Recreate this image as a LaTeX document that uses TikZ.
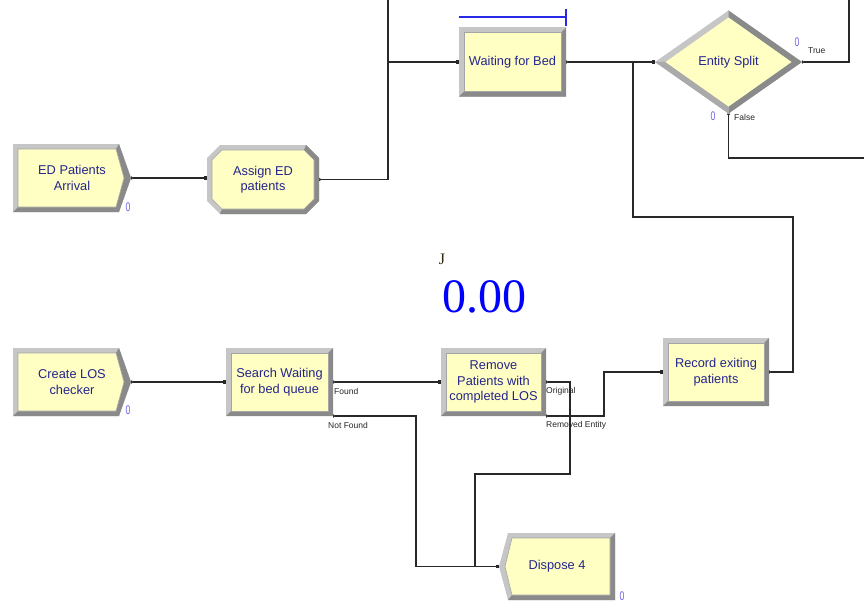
\documentclass[tikz,border=0pt]{standalone}
\usepackage{fontspec}
\setmainfont{Liberation Sans}
\newfontfamily\serifff{Liberation Serif}
\usetikzlibrary{arrows.meta,calc}
\pgfdeclarelayer{conn}
\pgfdeclarelayer{shp}
\pgfsetlayers{conn,shp,main}
\definecolor{yel}{RGB}{255,255,196}
\definecolor{bevL}{RGB}{198,198,198}
\definecolor{bevM}{RGB}{170,170,170}
\definecolor{bevD}{RGB}{138,138,138}
\definecolor{bevE}{RGB}{165,165,165}
\definecolor{txt}{RGB}{36,36,140}
\definecolor{cntc}{RGB}{110,100,230}
\definecolor{lnc}{RGB}{40,40,40}
\definecolor{qblue}{RGB}{40,40,230}
\definecolor{jcol}{RGB}{50,38,15}

\newcommand\rectmod[1]{%
 \fill[bevL] (#1.north west) rectangle (#1.south east);
 \fill[bevD] (#1.north east) -- (#1.south east) -- (#1.south west) -- ([shift={(5,-5)}]#1.south west) -- ([shift={(-5,-5)}]#1.south east) -- ([shift={(-5,5)}]#1.north east) -- cycle;
 \fill[yel] ([shift={(5,5)}]#1.north west) rectangle ([shift={(-5,-5)}]#1.south east);
 \draw[bevE, line width=0.6pt] ([shift={(5,5)}]#1.north west) rectangle ([shift={(-5,-5)}]#1.south east);
}
\newcommand\sigE[1]{%
 \fill[bevL] (#1.north west) -- ([shift={(-12,0)}]#1.north east) -- (#1.east) -- ([shift={(-12,0)}]#1.south east) -- (#1.south west) -- cycle;
 \fill[bevD] ([shift={(-12,0)}]#1.north east) -- (#1.east) -- ([shift={(-12,0)}]#1.south east) -- (#1.south west) -- ([shift={(5,-5)}]#1.south west) -- ([shift={(-15,-5)}]#1.south east) -- ([shift={(-7,0)}]#1.east) -- ([shift={(-15,5)}]#1.north east) -- cycle;
 \fill[yel] ([shift={(5,5)}]#1.north west) -- ([shift={(-15,5)}]#1.north east) -- ([shift={(-7,0)}]#1.east) -- ([shift={(-15,-5)}]#1.south east) -- ([shift={(5,-5)}]#1.south west) -- cycle;
 \draw[bevE, line width=0.6pt] ([shift={(5,5)}]#1.north west) -- ([shift={(-15,5)}]#1.north east) -- ([shift={(-7,0)}]#1.east) -- ([shift={(-15,-5)}]#1.south east) -- ([shift={(5,-5)}]#1.south west) -- cycle;
}
\newcommand\sigW[1]{%
 \fill[bevL] (#1.west) -- ([shift={(9,0)}]#1.north west) -- (#1.north east) -- (#1.south east) -- ([shift={(9,0)}]#1.south west) -- cycle;
 \fill[bevD] (#1.north east) -- (#1.south east) -- ([shift={(9,0)}]#1.south west) -- ([shift={(13,-5)}]#1.south west) -- ([shift={(-5,-5)}]#1.south east) -- ([shift={(-5,5)}]#1.north east) -- cycle;
 \fill[yel] ([shift={(6,0)}]#1.west) -- ([shift={(13,5)}]#1.north west) -- ([shift={(-5,5)}]#1.north east) -- ([shift={(-5,-5)}]#1.south east) -- ([shift={(13,-5)}]#1.south west) -- cycle;
 \draw[bevE, line width=0.6pt] ([shift={(6,0)}]#1.west) -- ([shift={(13,5)}]#1.north west) -- ([shift={(-5,5)}]#1.north east) -- ([shift={(-5,-5)}]#1.south east) -- ([shift={(13,-5)}]#1.south west) -- cycle;
}
\newcommand\octmod[1]{%
 \fill[bevL] ([shift={(13,0)}]#1.north west) -- ([shift={(-13,0)}]#1.north east) -- ([shift={(0,13)}]#1.north east) -- ([shift={(0,-13)}]#1.south east) -- ([shift={(-13,0)}]#1.south east) -- ([shift={(13,0)}]#1.south west) -- ([shift={(0,-13)}]#1.south west) -- ([shift={(0,13)}]#1.north west) -- cycle;
 \fill[bevD] ([shift={(-13,0)}]#1.north east) -- ([shift={(0,13)}]#1.north east) -- ([shift={(0,-13)}]#1.south east) -- ([shift={(-13,0)}]#1.south east) -- ([shift={(13,0)}]#1.south west) -- ([shift={(15,-5)}]#1.south west) -- ([shift={(-15,-5)}]#1.south east) -- ([shift={(-5,-15)}]#1.south east) -- ([shift={(-5,15)}]#1.north east) -- ([shift={(-15,5)}]#1.north east) -- cycle;
 \fill[yel] ([shift={(15,5)}]#1.north west) -- ([shift={(-15,5)}]#1.north east) -- ([shift={(-5,15)}]#1.north east) -- ([shift={(-5,-15)}]#1.south east) -- ([shift={(-15,-5)}]#1.south east) -- ([shift={(15,-5)}]#1.south west) -- ([shift={(5,-15)}]#1.south west) -- ([shift={(5,15)}]#1.north west) -- cycle;
 \draw[bevE, line width=0.6pt] ([shift={(15,5)}]#1.north west) -- ([shift={(-15,5)}]#1.north east) -- ([shift={(-5,15)}]#1.north east) -- ([shift={(-5,-15)}]#1.south east) -- ([shift={(-15,-5)}]#1.south east) -- ([shift={(15,-5)}]#1.south west) -- ([shift={(5,-15)}]#1.south west) -- ([shift={(5,15)}]#1.north west) -- cycle;
}
\newcommand\diamod[1]{%
 \fill[bevL] (#1.north) -- (#1.east) -- (#1.south) -- (#1.west) -- cycle;
 \fill[bevD] (#1.north) -- (#1.east) -- (#1.south) -- ([shift={(0,-7)}]#1.south) -- ([shift={(-10.5,0)}]#1.east) -- ([shift={(0,7)}]#1.north) -- cycle;
 \fill[bevM] (#1.south) -- (#1.west) -- ([shift={(10.5,0)}]#1.west) -- ([shift={(0,-7)}]#1.south) -- cycle;
 \fill[yel] ([shift={(0,7)}]#1.north) -- ([shift={(-10.5,0)}]#1.east) -- ([shift={(0,-7)}]#1.south) -- ([shift={(10.5,0)}]#1.west) -- cycle;
}

\tikzset{
  mod/.style={rectangle, inner sep=0pt, outer sep=0pt, text=txt, align=center,
    font=\fontsize{12.8}{15.5}\selectfont},
  wire/.style={draw=lnc, line width=1.2pt},
  ext/.tip={Triangle[reversed,length=2.5pt,width=3.5pt]},
  ent/.tip={Square[length=3.5pt,width=3.5pt]},
  lab/.style={font=\fontsize{8.5}{9}\selectfont, text=black!85, inner sep=0pt, anchor=west},
  cnt/.style={font=\fontsize{12.5}{12.5}\selectfont, text=cntc, inner sep=0pt},
}

\begin{document}
\begin{tikzpicture}[x=1pt,y=-1pt]
\useasboundingbox (0,0) rectangle (864,602);

% modules
\node[mod, minimum width=118pt, minimum height=68pt] (ed) at (72,178) {ED Patients\\Arrival};
\node[mod, minimum width=112pt, minimum height=69pt] (as) at (263,179.5) {Assign ED\\patients};
\node[mod, minimum width=107pt, minimum height=69pt] (wfb) at (512.5,62) {Waiting for Bed};
\node[mod, minimum width=147pt, minimum height=103pt] (es) at (728.5,62) {Entity Split};
\node[mod, minimum width=118pt, minimum height=68pt] (cl) at (72,382) {Create LOS\\checker};
\node[mod, minimum width=107pt, minimum height=68pt] (sw) at (279.5,382) {Search Waiting\\for bed queue};
\node[mod, minimum width=105pt, minimum height=68pt] (rp) at (493.5,382) {Remove\\Patients with\\completed LOS};
\node[mod, minimum width=106pt, minimum height=68pt] (rx) at (716,372) {Record exiting\\patients};
\node[mod, minimum width=116pt, minimum height=67pt] (d4) at (557,566.5) {Dispose 4};

\begin{pgfonlayer}{shp}
 \sigE{ed} \sigE{cl}
 \octmod{as}
 \rectmod{wfb} \rectmod{sw} \rectmod{rp} \rectmod{rx}
 \diamod{es}
 \sigW{d4}
\end{pgfonlayer}

% connectors
\coordinate (topA) at (388,0);
\coordinate (jA) at (388,62);
\coordinate (jB) at (633,62);
\coordinate (rxUp) at (793,217);
\coordinate (tTop) at (849,0);
\coordinate (fR) at (864,158);
\coordinate (nfX) at (416,416);
\coordinate (o1) at (570,474);
\coordinate (o2) at (475,566.5);
\coordinate (r1) at (604,372);

\begin{pgfonlayer}{conn}
 \fill[white] (0,0) rectangle (864,602);
 \draw[wire,{ext}-{ent}] (ed.east) -- (ed.east -| as.west);
 \draw[wire,{ext}-] (as.east) -| (topA);
 \draw[wire,-{ent}] (jA) -- (jA -| wfb.west);
 \draw[wire,{ext}-{ent}] (wfb.east) -- (es.west);
 \draw[wire,{ext}-] (rx.east) -| (rxUp) -| (jB);
 \draw[wire,{ext}-] (es.east) -| (tTop);
 \draw[wire,{ext}-] (es.south) |- (fR);
 \draw[wire,{ext}-{ent}] (cl.east) -- (sw.west);
 \draw[wire,{ext}-{ent}] (sw.east) -- (rp.west);
 \draw[wire,{ext}-{ent}] (sw.south east) -- (nfX) |- (d4.west);
 \draw[wire,{ext}-] (rp.east) -| (o1) -| (o2);
 \draw[wire,{ext}-{ent}] (rp.south east) -| (r1) -- (rx.west);
\end{pgfonlayer}

% queue animation line
\draw[qblue, line width=1.2pt] (459,17) -- (566,17) (566,9) -- (566,26);

% labels
\node[lab] (lFound) at (334,391) {Found};
\node[lab] (lNF) at (328,425) {Not Found};
\node[lab] (lOrig) at (546,391) {Original};
\node[lab] (lRem) at (546,425) {Removed Entity};
\node[lab] (lTrue) at (808,51) {True};
\node[lab] (lFalse) at (734,117) {False};

\node[cnt] (c1) at (128,207) {\scalebox{0.7}[1]{0}};
\node[cnt] (c2) at (128,410) {\scalebox{0.7}[1]{0}};
\node[cnt] (c3) at (622,596) {\scalebox{0.7}[1]{0}};
\node[cnt] (c4) at (797,42) {\scalebox{0.7}[1]{0}};
\node[cnt] (c5) at (713,116) {\scalebox{0.7}[1]{0}};

\node[font=\serifff\fontsize{16}{16}\selectfont, text=jcol, anchor=base, inner sep=0pt] (jl) at (442,264) {J};
\node[font=\serifff\fontsize{48}{48}\selectfont, text=blue, anchor=base, inner sep=0pt] (val) at (484,312) {0.00};
\end{tikzpicture}
\end{document}
